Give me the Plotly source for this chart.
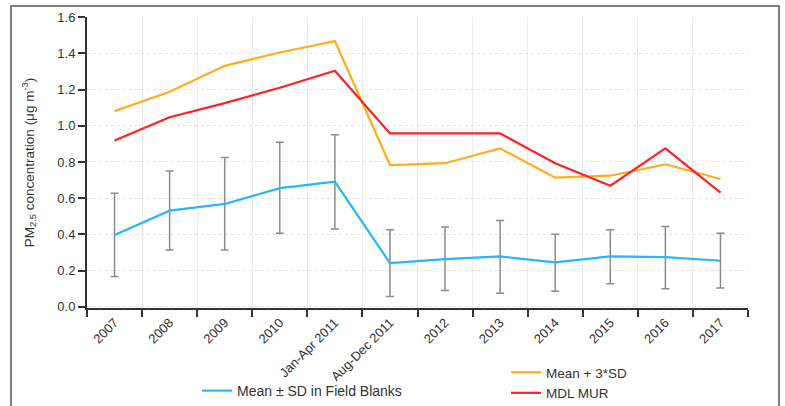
import plotly.graph_objects as go

categories = ["2007", "2008", "2009", "2010", "Jan-Apr 2011", "Aug-Dec 2011",
              "2012", "2013", "2014", "2015", "2016", "2017"]
mean_fb = [0.397, 0.531, 0.568, 0.655, 0.691, 0.241, 0.263, 0.278, 0.245, 0.278, 0.274, 0.254]
sd_upper = [0.627, 0.750, 0.824, 0.909, 0.951, 0.425, 0.440, 0.476, 0.401, 0.425, 0.443, 0.406]
sd_lower = [0.167, 0.314, 0.314, 0.406, 0.430, 0.057, 0.090, 0.075, 0.085, 0.127, 0.099, 0.103]
mean_3sd = [1.081, 1.188, 1.331, 1.405, 1.468, 0.783, 0.793, 0.875, 0.713, 0.724, 0.787, 0.706]
mdl_mur = [0.918, 1.047, 1.125, 1.210, 1.304, 0.958, 0.958, 0.958, 0.793, 0.669, 0.875, 0.631]

err_plus = [u - m for u, m in zip(sd_upper, mean_fb)]
err_minus = [m - l for m, l in zip(mean_fb, sd_lower)]

FONT = "Liberation Sans, Arial, sans-serif"

fig = go.Figure()
fig.add_trace(go.Scatter(
    x=categories, y=mean_fb, mode="lines", name="Mean \u00b1 SD in Field Blanks",
    line=dict(color="#29B6F6", width=2.2),
    error_y=dict(type="data", symmetric=False, array=err_plus, arrayminus=err_minus,
                 color="#8c8c8c", thickness=1.5, width=4),
    legend="legend",
))
fig.add_trace(go.Scatter(
    x=categories, y=mean_3sd, mode="lines", name="Mean + 3*SD",
    line=dict(color="#FFAE1F", width=2.2), legend="legend2",
))
fig.add_trace(go.Scatter(
    x=categories, y=mdl_mur, mode="lines", name="MDL MUR",
    line=dict(color="#FF2027", width=2.2), legend="legend2",
))

L, R, T, B = 87, 37, 17, 98
W, H = 785, 406
pw, ph = W - L - R, H - T - B

def px(x):
    return (x - L) / pw

def py(y):
    return (H - B - y) / ph

fig.update_layout(
    width=W, height=H,
    margin=dict(l=L, r=R, t=T, b=B, autoexpand=False),
    paper_bgcolor="white", plot_bgcolor="white",
    font=dict(family=FONT, size=13, color="#333333"),
    showlegend=True,
    legend=dict(x=px(197), y=py(375), xanchor="left", yanchor="top",
                font=dict(size=14, color="#333333"), bgcolor="rgba(0,0,0,0)",
                itemwidth=30, tracegroupgap=0),
    legend2=dict(x=px(506), y=py(357), xanchor="left", yanchor="top",
                 font=dict(size=13.5, color="#333333"), bgcolor="rgba(0,0,0,0)",
                 itemwidth=30, tracegroupgap=0),
    xaxis=dict(
        type="category", range=[-0.5, 11.5], automargin=False,
        tickson="boundaries", ticks="outside", ticklen=7, tickwidth=1.5, tickcolor="#333333",
        showline=True, linecolor="#333333", linewidth=2,
        showgrid=True, gridcolor="#ececec", gridwidth=1,
        tickangle=-45, tickfont=dict(size=13, color="#333333"),
        zeroline=False,
    ),
    yaxis=dict(
        range=[-0.007, 1.601], dtick=0.2, tick0=0, tickformat=".1f", automargin=False,
        ticks="outside", ticklen=7, tickwidth=1.5, tickcolor="#333333",
        showline=True, linecolor="#333333", linewidth=2,
        showgrid=True, gridcolor="#e4e4e4", gridwidth=1, griddash="dot",
        zeroline=False,
        tickfont=dict(size=13, color="#333333"),
        title=dict(text="PM<sub>2.5</sub> concentration (\u03bcg m<sup>-3</sup>)",
                   font=dict(size=13.5, color="#333333"), standoff=20),
    ),
    shapes=[dict(type="rect", xref="paper", yref="paper",
                 x0=px(11), x1=px(779), y0=py(412), y1=py(6),
                 line=dict(color="#555555", width=1.5), fillcolor="rgba(0,0,0,0)", layer="below")],
)

fig.write_html("out.html")
